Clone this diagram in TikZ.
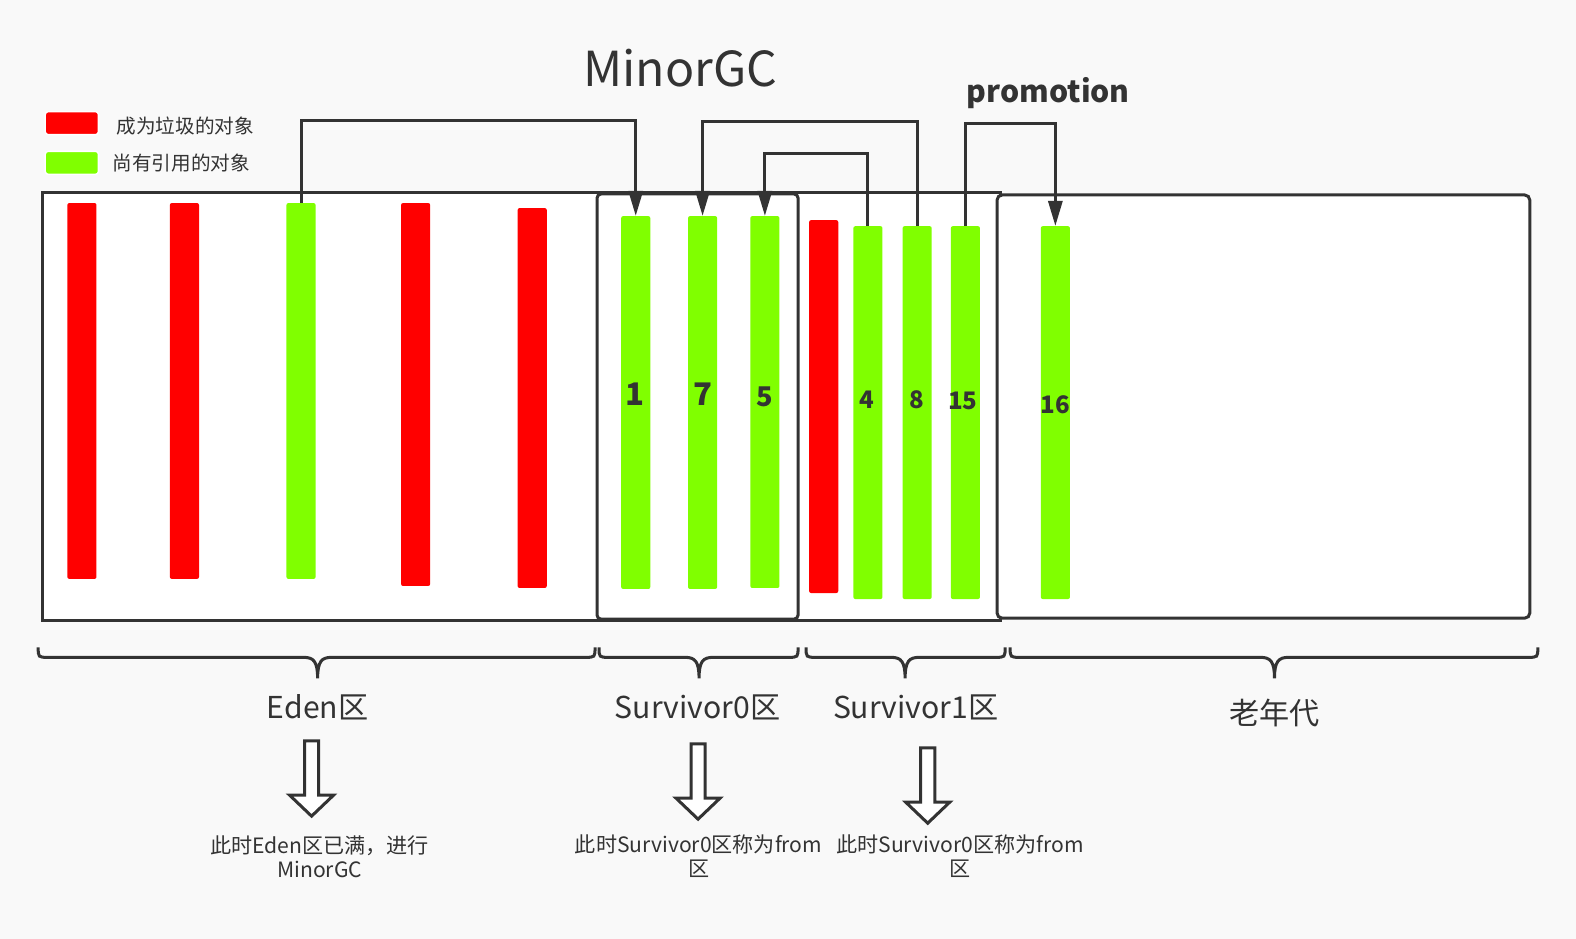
\documentclass[tikz,border=0pt]{standalone}
\usepackage{fontspec}
\setmainfont{Noto Sans CJK SC}
\usetikzlibrary{arrows.meta}
\definecolor{ink}{HTML}{333333}
\definecolor{gbar}{HTML}{80FF00}
\definecolor{rbar}{HTML}{FF0000}
\definecolor{bgc}{HTML}{F9F9F9}
\newcommand{\bracedraw}[3]{%
  \draw[bracestyle] (#1,644) .. controls (#1,654) .. (#1+10,654) -- (#2-14,654)
    .. controls (#2-4,654) and (#2,658) .. (#2,675)
    .. controls (#2,658) and (#2+4,654) .. (#2+14,654) -- (#3-10,654)
    .. controls (#3,654) .. (#3,644);}
\newcommand{\hollowarrow}[4]{%
  \draw[hollow] (#1-7,#2) -- (#1+7,#2) -- (#1+7,#3) -- (#1+22,#3) -- (#1,#4)
    -- (#1-22,#3) -- (#1-7,#3) -- cycle;}
\begin{document}
\begin{tikzpicture}[x=1pt,y=-1pt,
  bar/.style={rectangle, rounded corners=2pt, minimum width=29pt, inner sep=0pt, draw=none},
  redbar/.style={bar, fill=rbar},
  greenbar/.style={bar, fill=gbar},
  region/.style={draw=ink, line width=3pt, fill=white},
  conn/.style={draw=ink, line width=3pt, -{Triangle[length=25pt,width=14pt]}},
  bracestyle/.style={draw=ink, line width=3pt},
  hollow/.style={draw=ink, line width=3pt, fill=white, line join=miter},
  num/.style={text=ink, font=\bfseries\fontsize{#1}{#1}\selectfont, inner sep=0pt},
  lbl/.style={text=ink, font=\fontsize{30}{36}\selectfont, inner sep=0pt},
  note/.style={text=ink, font=\fontsize{21}{24}\selectfont, align=center, inner sep=0pt},
  legtxt/.style={text=ink, font=\fontsize{19.5}{24}\selectfont, anchor=west, inner sep=0pt},
  legbox/.style={rectangle, rounded corners=3pt, minimum width=53pt, minimum height=23pt, inner sep=0pt, draw=white, line width=1.5pt}
]
\fill[bgc] (0,0) rectangle (1568,934);
\useasboundingbox (0,0) rectangle (1568,934);

% regions
\draw[region] (42,192) rectangle (995,617);
\draw[region, rounded corners=4pt] (594,193) rectangle (794,616);
\draw[region, rounded corners=5pt] (992,194) rectangle (1522,615);

% legend
\node[legbox, fill=rbar] (lr) at (71.5,122.5) {};
\node[legbox, fill=gbar] (lg) at (71.5,162) {};
\node[legtxt] (lrt) at (116,125) {成为垃圾的对象};
\node[legtxt] (lgt) at (112,162) {尚有引用的对象};

% Eden bars
\node[redbar, minimum height=374pt] (e1) at (81.5,389) {};
\node[redbar, minimum height=374pt] (e2) at (183.5,389) {};
\node[greenbar, minimum height=374pt] (eg) at (299.5,389) {};
\node[redbar, minimum height=381pt] (e3) at (413.5,392.5) {};
\node[redbar, minimum height=378pt] (e4) at (529.5,396) {};

% Survivor0 bars
\node[greenbar, minimum height=371pt] (s0a) at (632.5,400.5) {};
\node[greenbar, minimum height=371pt] (s0b) at (699,400.5) {};
\node[greenbar, minimum height=370pt] (s0c) at (761,400) {};

% Survivor1 bars
\node[redbar, minimum height=371pt] (s1r) at (819.5,404.5) {};
\node[greenbar, minimum height=371pt] (s1a) at (863.5,410.5) {};
\node[greenbar, minimum height=371pt] (s1b) at (912.5,410.5) {};
\node[greenbar, minimum height=371pt] (s1c) at (960.5,410.5) {};

% Old generation bar
\node[greenbar, minimum height=371pt] (o1) at (1050,410.5) {};

% numbers
\node[num=31] (n1) at (632,392) {1};
\node[num=31] (n7) at (699,392) {7};
\node[num=27] (n5) at (761,395) {5};
\node[num=24] (n4) at (862,398) {4};
\node[num=24] (n8) at (912,398) {8};
\node[num=24] (n15) at (958,399) {15};
\node[num=24] (n16) at (1050,403) {16};

% connectors
\draw[conn] (eg.north) -- ++(0,-82) -| (s0a.north);
\draw[conn] (s1b.north) -- ++(0,-104) -| (s0b.north);
\draw[conn] (s1a.north) -- ++(0,-72) -| (s0c.north);
\draw[conn] (s1c.north) -- ++(0,-102) -| (o1.north);

% titles
\node[text=ink, font=\fontsize{48}{56}\selectfont, inner sep=0pt] (title) at (677,68) {MinorGC};
\node[text=ink, font=\bfseries\fontsize{30}{36}\selectfont, inner sep=0pt] (promo) at (1043,93) {promotion};

% braces
\bracedraw{38}{316}{592}
\bracedraw{596}{695.5}{794}
\bracedraw{802}{900.5}{1000}
\bracedraw{1005}{1268}{1530}

% labels
\node[lbl] (leden) at (316,704) {Eden区};
\node[lbl] (ls0) at (694,704) {Survivor0区};
\node[lbl] (ls1) at (911,704) {Survivor1区};
\node[lbl] (lold) at (1268,709) {老年代};

% hollow arrows
\hollowarrow{310}{737}{791}{812}
\hollowarrow{694.5}{740}{794}{815}
\hollowarrow{923}{744}{798}{819}

% notes
\node[note] (t1) at (318,852) {此时Eden区已满，进行\\MinorGC};
\node[note] (t2) at (695,852) {此时Survivor0区称为from\\区};
\node[note] (t3) at (955,852) {此时Survivor0区称为from\\区};
\end{tikzpicture}
\end{document}
